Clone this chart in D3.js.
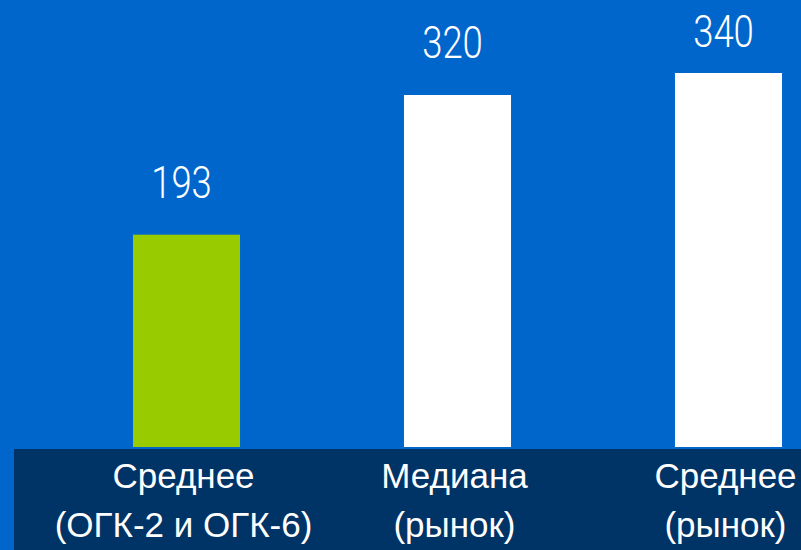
<!DOCTYPE html>
<html>
<head>
<meta charset="utf-8">
<script src="https://cdn.jsdelivr.net/npm/d3@7/dist/d3.min.js"></script>
<style>
  html, body { margin: 0; padding: 0; background: #0066CC; }
  svg { display: block; }
</style>
</head>
<body>
<script>
const categories = ["Среднее (ОГК-2 и ОГК-6)", "Медиана (рынок)", "Среднее (рынок)"];
const labelLines = [["Среднее", "(ОГК-2 и ОГК-6)"], ["Медиана", "(рынок)"], ["Среднее", "(рынок)"]];
const values = [193, 320, 340];
const barColors = ["#99CC00", "#FFFFFF", "#FFFFFF"];

const W = 801, H = 550;
const svg = d3.select("body").append("svg").attr("width", W).attr("height", H);

svg.append("rect").attr("x", 0).attr("y", 0).attr("width", W).attr("height", H).attr("fill", "#0066CC");

const x = d3.scaleBand().domain(categories).range([51, 864]).paddingInner(0.605).paddingOuter(0.3025);
const y = d3.scaleLinear().domain([0, 340]).range([447, 73]);

// bottom navy band
svg.append("rect").attr("x", 14).attr("y", 449).attr("width", W - 14).attr("height", H - 449).attr("fill", "#003366");

svg.selectAll("rect.bar").data(values).join("rect")
  .attr("class", "bar")
  .attr("x", (d, i) => x(categories[i]))
  .attr("width", x.bandwidth())
  .attr("y", d => y(d))
  .attr("height", d => y(0) - y(d))
  .attr("fill", (d, i) => barColors[i]);

svg.selectAll("text.val").data(values).join("text")
  .attr("class", "val")
  .attr("transform", (d, i) => `translate(${x(categories[i]) + x.bandwidth() / 2 - 5},${Math.max(y(d) - 37, 47)}) scale(0.81,1)`)
  .attr("text-anchor", "middle")
  .attr("fill", "#FFFFFF")
  .attr("font-family", "Roboto, 'Liberation Sans', sans-serif")
  .attr("font-weight", 300)
  .attr("font-size", 45)
  .text(d => d);

const cat = svg.selectAll("text.cat").data(categories).join("text")
  .attr("class", "cat")
  .attr("text-anchor", "middle")
  .attr("fill", "#FFFFFF")
  .attr("font-family", "'Liberation Sans', Arial, sans-serif")
  .attr("font-size", 35);
cat.each(function(d, i) {
  const t = d3.select(this);
  labelLines[i].forEach((line, j) => {
    t.append("tspan")
      .attr("x", x(d) + x.bandwidth() / 2 - 3)
      .attr("y", 488 + j * 49)
      .text(line);
  });
});
</script>
</body>
</html>
